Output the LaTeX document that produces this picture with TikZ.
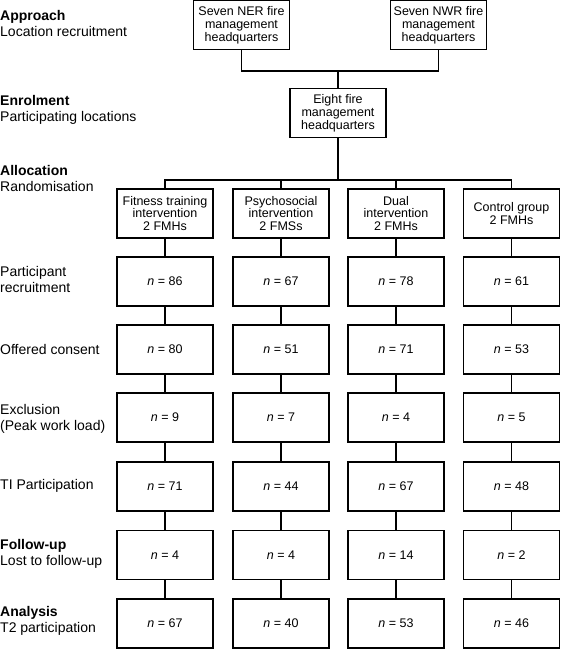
\documentclass[tikz,border=0pt]{standalone}
\usepackage{fontspec}
\setmainfont{Liberation Sans}
\begin{document}
\begin{tikzpicture}[x=1pt,y=-1pt,
  box/.style={draw,line width=1.7pt,minimum width=96pt,minimum height=49pt,inner sep=0pt,align=center,font=\fontsize{12.5}{12.8}\selectfont},
  conn/.style={line width=1.6pt},
  lab/.style={anchor=west,inner sep=0pt,align=left,font=\fontsize{14}{16}\selectfont}]
\useasboundingbox (0,0) rectangle (561,649);
% left labels
\node[lab] (l1) at (0,23.3) {\textbf{Approach}\\Location recruitment};
\node[lab] (l2) at (0,110) {\textbf{Enrolment}\\Participating locations};
\node[lab] (l3) at (0,178) {\textbf{Allocation}\\Randomisation};
\node[lab] (l4) at (0,279.7) {Participant\\recruitment};
\node[lab] (l5) at (0,349) {Offered consent};
\node[lab] (l6) at (0,418.7) {Exclusion\\(Peak work load)};
\node[lab] (l7) at (0,486) {TI Participation};
\node[lab] (l8) at (0,553.7) {\textbf{Follow-up}\\Lost to follow-up};
\node[lab] (l9) at (0,621.3) {\textbf{Analysis}\\T2 participation};
% top
\node[box] (ner) at (241.5,25) {Seven NER fire\\management\\headquarters};
\node[box] (nwr) at (438.5,25) {Seven NWR fire\\management\\headquarters};
\node[box] (eight) at (338,113) {Eight fire\\management\\headquarters};
\coordinate (j1) at (338,71);
\coordinate (j2) at (338,180);
% allocation
\node[box] (a1) at (165,213.5) {Fitness training\\intervention\\2 FMHs};
\node[box] (a2) at (281,213.5) {Psychosocial\\intervention\\2 FMSs};
\node[box] (a3) at (396,213.5) {Dual\\intervention\\2 FMHs};
\node[box] (a4) at (511.5,213.5) {Control group\\2 FMHs};
% rows
\foreach \r/\y/\va/\vb/\vc/\vd in {1/281.5/86/67/78/61, 2/349.5/80/51/71/53, 3/417.5/9/7/4/5, 4/486.5/71/44/67/48, 5/555/4/4/14/2, 6/623.5/67/40/53/46}{
  \node[box] (r\r c1) at (165,\y) {\textit{n} = \va};
  \node[box] (r\r c2) at (281,\y) {\textit{n} = \vb};
  \node[box] (r\r c3) at (396,\y) {\textit{n} = \vc};
  \node[box] (r\r c4) at (511.5,\y) {\textit{n} = \vd};
}
% connectors
\draw[conn] (ner.south) -- (ner.south |- j1) -- (nwr.south |- j1) -- (nwr.south);
\draw[conn] (j1) -- (eight.north);
\draw[conn] (eight.south) -- (j2);
\draw[conn] (a1.north) -- (a1.north |- j2) -- (a4.north |- j2) -- (a4.north);
\draw[conn] (a2.north) -- (a2.north |- j2);
\draw[conn] (a3.north) -- (a3.north |- j2);
\foreach \c in {1,2,3,4}{
  \draw[conn] (a\c.south) -- (r1c\c.north);
  \draw[conn] (r1c\c.south) -- (r2c\c.north);
  \draw[conn] (r2c\c.south) -- (r3c\c.north);
  \draw[conn] (r3c\c.south) -- (r4c\c.north);
  \draw[conn] (r4c\c.south) -- (r5c\c.north);
  \draw[conn] (r5c\c.south) -- (r6c\c.north);
}
\end{tikzpicture}
\end{document}
